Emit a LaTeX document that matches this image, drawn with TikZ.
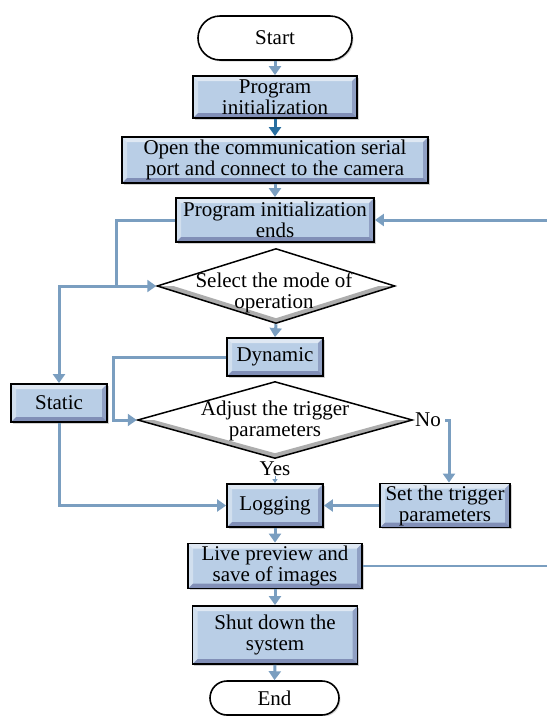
\documentclass[tikz,border=0pt]{standalone}
\usepackage{fontspec}
\setmainfont{Liberation Serif}
\usetikzlibrary{arrows.meta,shapes.geometric,calc,shadows}
\definecolor{ln}{RGB}{122,158,192}
\definecolor{dk}{RGB}{40,110,160}
\definecolor{bx}{RGB}{185,206,230}
\begin{document}
\begin{tikzpicture}[x=1pt,y=-1pt,
  font=\fontsize{21}{21}\selectfont,
  bevel/.style={path picture={
    \path (path picture bounding box.north west) coordinate (pnw)
          (path picture bounding box.north east) coordinate (pne)
          (path picture bounding box.south west) coordinate (psw)
          (path picture bounding box.south east) coordinate (pse);
    \fill[white,opacity=.55] (pnw) -- (pne) -- ([shift={(-5pt,-5pt)}]pne) -- ([shift={(5pt,-5pt)}]pnw) -- cycle;
    \fill[white,opacity=.35] (pnw) -- (psw) -- ([shift={(5pt,5pt)}]psw) -- ([shift={(5pt,-5pt)}]pnw) -- cycle;
    \fill[black!70!blue,opacity=.30] (psw) -- (pse) -- ([shift={(-5pt,5pt)}]pse) -- ([shift={(5pt,5pt)}]psw) -- cycle;
    \fill[black!70!blue,opacity=.22] (pne) -- (pse) -- ([shift={(-5pt,5pt)}]pse) -- ([shift={(-5pt,-5pt)}]pne) -- cycle;
  }},
  box/.style={draw=black,line width=1.8pt,fill=bx,inner sep=0pt,align=center,bevel,
    drop shadow={shadow xshift=1.5pt,shadow yshift=-1.5pt,opacity=.35}},
  pill/.style={draw=black,line width=1.6pt,fill=white,inner sep=0pt,
    drop shadow={shadow xshift=1.5pt,shadow yshift=-1.5pt,opacity=.3}},
  dshade/.style={path picture={
    \fill[black!40,opacity=.8] (path picture bounding box.west) -- (path picture bounding box.south)
      -- (path picture bounding box.east) -- ([xshift=-16pt]path picture bounding box.east)
      -- ([yshift=5pt]path picture bounding box.south) -- ([xshift=16pt]path picture bounding box.west) -- cycle;
  }},
  dia/.style={shape=diamond,draw=black,line width=1.5pt,fill=white,inner sep=0pt,dshade},
  lab/.style={inner sep=0pt,align=center},
  arr/.style={draw=ln,line width=3pt,-{Triangle[length=9pt,width=12pt]}},
  lnl/.style={draw=ln,line width=2.2pt}
]
\useasboundingbox (0,0) rectangle (547,716);

\node[pill,rounded corners=22pt,minimum width=154pt,minimum height=44pt] (start) at (275,38) {Start};
\node[box,minimum width=164pt,minimum height=42pt] (init) at (275,97) {Program\\initialization};
\node[box,minimum width=306pt,minimum height=46pt] (open) at (275,160) {Open the communication serial\\port and connect to the camera};
\node[box,minimum width=198pt,minimum height=44pt] (ends) at (275,220) {Program initialization\\ends};
\node[dia,minimum width=238pt,minimum height=75pt] (sel) at (276,286) {};
\node[lab] (seltxt) at (274,293) {Select the mode of\\operation};
\node[box,minimum width=96pt,minimum height=38pt] (dyn) at (275,357) {Dynamic};
\node[box,minimum width=96pt,minimum height=38pt] (static) at (59,403) {Static};
\node[dia,minimum width=275pt,minimum height=77pt] (adj) at (275,420) {};
\node[lab] (adjtxt) at (275,421) {Adjust the trigger\\parameters};
\node[box,minimum width=130pt,minimum height=44pt] (set) at (445,505.5) {Set the trigger\\parameters};
\node[box,minimum width=96pt,minimum height=43pt] (log) at (275,505.5) {Logging};
\node[box,minimum width=174pt,minimum height=45pt] (live) at (275,566) {Live preview and\\save of images};
\node[box,minimum width=165pt,minimum height=58pt] (shut) at (275,635) {Shut down the\\system};
\node[pill,rounded corners=17pt,minimum width=129pt,minimum height=34pt] (end) at (274.5,698) {End};

\node[lab] (no) at (428,420) {No};
\node[lab] (yes) at (275,469) {Yes};

\coordinate (j1) at (116,286);
\coordinate (j2) at (59,286);
\coordinate (j3) at (113,420);
\coordinate (j4) at (445,420);
\coordinate (r1) at (547,220);
\coordinate (r2) at (547,566);

\draw[arr] (start.south) -- (init.north);
\draw[arr,draw=dk] (init.south) -- (open.north);
\draw[arr] (open.south) -- (ends.north);
\draw[arr] (ends.west) -| (j1) -- (sel.west);
\draw[arr] (j1) -- (j2) -- (static.north);
\draw[arr] (sel.south) -- (dyn.north);
\draw[arr] (dyn.west) -| (j3) -- (adj.west);
\draw[arr] (static.south) |- (log.west);
\draw[arr] (j4) -| ([xshift=4pt]set.north);
\draw[draw=ln,line width=1pt,-{Triangle[length=4pt,width=5pt]}] (yes.south) -- (log.north);
\draw[arr] (set.west) -- (log.east);
\draw[arr] (log.south) -- (live.north);
\draw[arr] (live.south) -- (shut.north);
\draw[arr] (shut.south) -- (end.north);
\draw[arr] (r1) -- (ends.east);
\draw[lnl] (live.east) -- (r2);
\end{tikzpicture}
\end{document}
